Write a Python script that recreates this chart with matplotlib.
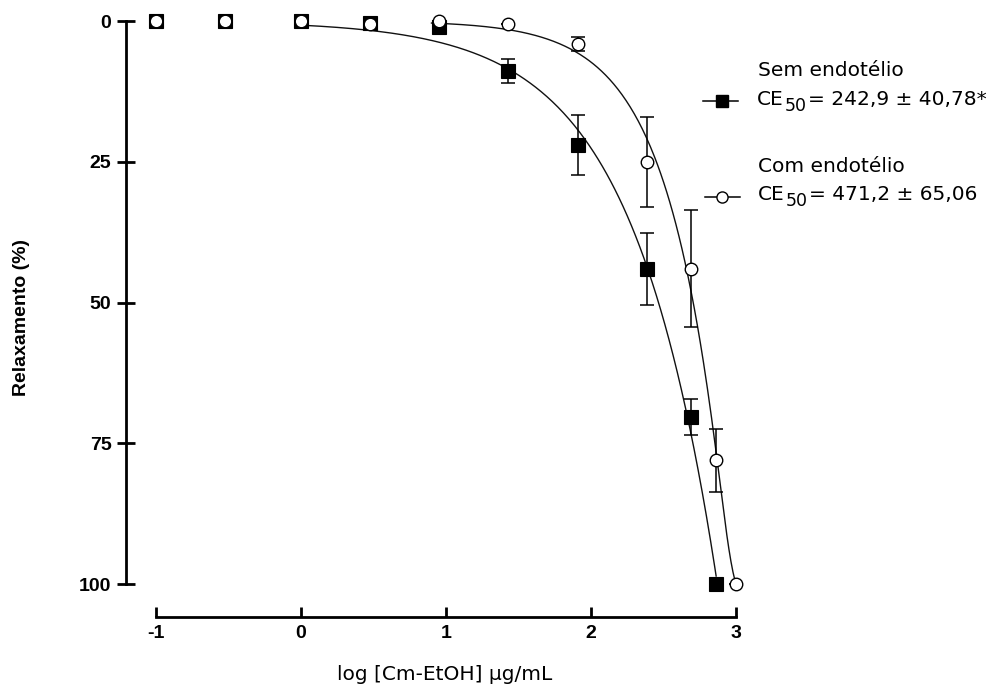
import numpy as np
import matplotlib
matplotlib.use("Agg")
import matplotlib.pyplot as plt
from matplotlib.lines import Line2D

# ---------------- data ----------------
log_conc = [-1.0, -0.523, 0.0, 0.477, 0.954, 1.431, 1.908, 2.386, 2.687, 2.863]
sem_mean = [0.0, 0.0, 0.0, 0.3, 1.1, 8.9, 22.0, 44.0, 70.3, 100.0]
sem_err = [0.0, 0.0, 0.0, 0.0, 0.0, 2.2, 5.3, 6.4, 3.2, 0.0]

log_conc_com = [-1.0, -0.523, 0.0, 0.477, 0.954, 1.431, 1.908, 2.386, 2.687, 2.863, 3.0]
com_mean = [0.0, 0.0, 0.0, 0.5, 0.0, 0.5, 4.1, 25.0, 44.0, 78.0, 100.0]
com_err = [0.0, 0.0, 0.0, 0.0, 0.0, 0.0, 1.2, 8.0, 10.4, 5.6, 0.0]

x_ticks = [-1, 0, 1, 2, 3]
y_ticks = [0, 25, 50, 75, 100]

sem_title = "Sem endotélio"
com_title = "Com endotélio"
ce_prefix = "CE"
ce_sub = "50"
sem_ce = "= 242,9 ± 40,78*"
com_ce = "= 471,2 ± 65,06"
x_label = "log [Cm-EtOH] µg/mL"
y_label = "Relaxamento (%)"


# ---------------- curve fit (asymmetric logistic, bottom = 0) ----------------
def model(p, x):
    T, c, h, s = p
    with np.errstate(over="ignore"):
        return T * (1.0 + 10.0 ** (h * (c - x))) ** (-s)


def nelder_mead(f, x0, step, iters=10000):
    n = len(x0)
    pts = [np.array(x0, float)]
    for i in range(n):
        v = np.array(x0, float)
        v[i] += step[i]
        pts.append(v)
    vals = [f(p) for p in pts]
    for _ in range(iters):
        order = np.argsort(vals)
        pts = [pts[i] for i in order]
        vals = [vals[i] for i in order]
        cen = np.mean(pts[:-1], axis=0)
        xr = cen + (cen - pts[-1])
        fr = f(xr)
        if fr < vals[0]:
            xe = cen + 2 * (cen - pts[-1])
            fe = f(xe)
            if fe < fr:
                pts[-1], vals[-1] = xe, fe
            else:
                pts[-1], vals[-1] = xr, fr
        elif fr < vals[-2]:
            pts[-1], vals[-1] = xr, fr
        else:
            xc = cen + 0.5 * (pts[-1] - cen)
            fc = f(xc)
            if fc < vals[-1]:
                pts[-1], vals[-1] = xc, fc
            else:
                for i in range(1, n + 1):
                    pts[i] = pts[0] + 0.5 * (pts[i] - pts[0])
                    vals[i] = f(pts[i])
    i = int(np.argmin(vals))
    return pts[i], vals[i]


def fit(xs, ys, starts):
    xs = np.asarray(xs)
    ys = np.asarray(ys)
    lo = np.array([95.0, 1.0, 0.3, 0.05])
    hi = np.array([2000.0, 6.0, 12.0, 5.0])

    def loss(p):
        pen = 1e4 * np.sum(np.clip(lo - p, 0, None) ** 2 + np.clip(p - hi, 0, None) ** 2)
        r = model(np.clip(p, lo, hi), xs) - ys
        return np.sum(r ** 2) + pen

    best, best_v = None, np.inf
    for p0 in starts:
        p, v = nelder_mead(loss, p0, [10.0, 0.15, 0.5, 0.05])
        p, v = nelder_mead(loss, p, [5.0, 0.05, 0.2, 0.02], iters=4000)
        if v < best_v:
            best, best_v = p, v
    return np.clip(best, lo, hi)


starts = [[110.0, 2.75, 4.0, 0.2], [110.0, 2.85, 4.0, 0.4],
          [150.0, 2.9, 3.0, 0.3], [300.0, 3.2, 2.0, 0.5],
          [120.0, 2.95, 5.0, 0.25]]
p_sem = fit(log_conc, sem_mean, starts)
p_com = fit(log_conc_com, com_mean, starts)

# ---------------- figure ----------------
W, H = 1005, 686
fig = plt.figure(figsize=(W / 100, H / 100), dpi=100)
ax = fig.add_axes([126 / W, 1 - 600 / H, (745 - 126) / W, (600 - 10) / H])

line_kw = dict(color="#111111", lw=1.0, zorder=2)
xs_sem = np.linspace(0.0, log_conc[-1], 300)
xs_com = np.linspace(0.9, log_conc_com[-1], 300)
ax.plot(xs_sem, model(p_sem, xs_sem), **line_kw)
ax.plot(xs_com, model(p_com, xs_com), **line_kw)

eb_kw = dict(fmt="none", ecolor="black", elinewidth=1.1, capsize=4.7,
             capthick=1.1, zorder=3, clip_on=False)
ax.errorbar(log_conc, sem_mean, yerr=sem_err, **eb_kw)
ax.errorbar(log_conc_com, com_mean, yerr=com_err, **eb_kw)

ax.plot(log_conc, sem_mean, ls="none", marker="s", ms=9.8, mfc="black",
        mec="black", mew=0.8, zorder=4, clip_on=False)
ax.plot(log_conc_com, com_mean, ls="none", marker="o", ms=9.0, mfc="white",
        mec="black", mew=1.0, zorder=5, clip_on=False)

ax.set_xlim(-1 - 30 / 145, 3 + 9 / 145)
ax.set_ylim((600 - 21) / 5.63, (10 - 21) / 5.63)

for s in ["top", "right"]:
    ax.spines[s].set_visible(False)
ax.spines["left"].set_bounds(0, 100)
ax.spines["bottom"].set_bounds(-1, 3)
ax.spines["bottom"].set_position(("outward", 12.2))
for s in ["left", "bottom"]:
    ax.spines[s].set_linewidth(2.0)

ax.set_xticks(x_ticks)
ax.set_yticks(y_ticks)
ax.set_xticklabels([str(v) for v in x_ticks])
ax.set_yticklabels([str(v) for v in y_ticks])
ax.tick_params(axis="y", direction="inout", length=13, width=2.0, pad=4)
ax.tick_params(axis="x", direction="in", length=7, width=2.0, pad=6)
for lab in ax.get_xticklabels() + ax.get_yticklabels():
    lab.set_fontfamily("Liberation Sans")
    lab.set_fontweight("bold")
    lab.set_fontsize(14)

fig.text(21 / W, 1 - 318 / H, y_label, rotation=90, ha="center", va="center",
         fontfamily="Liberation Sans", fontweight="bold", fontsize=14)
fig.text(445 / W, 1 - 680 / H, x_label, ha="center", va="baseline",
         fontfamily="DejaVu Sans", fontsize=14.5)

# ---------------- legend (manual) ----------------
renderer = fig.canvas.get_renderer()
leg_font = dict(fontfamily="DejaVu Sans", va="baseline", ha="left")


def ce_line(x_px, base_px, rest):
    t1 = fig.text(x_px / W, 1 - base_px / H, ce_prefix, fontsize=14.5, **leg_font)
    x1 = t1.get_window_extent(renderer).x1
    t2 = fig.text((x1 + 1) / W, 1 - (base_px + 6) / H, ce_sub, fontsize=12.5,
                  **leg_font)
    x2 = t2.get_window_extent(renderer).x1
    fig.text((x2 + 1) / W, 1 - base_px / H, rest, fontsize=14.5, **leg_font)


fig.text(758 / W, 1 - 76 / H, sem_title, fontsize=14.5, **leg_font)
ce_line(757, 105, sem_ce)
fig.text(758 / W, 1 - 172 / H, com_title, fontsize=14.5, **leg_font)
ce_line(758, 200, com_ce)

fig.add_artist(Line2D([703 / W, 738 / W], [1 - 101 / H, 1 - 101 / H],
                      transform=fig.transFigure, color="black", lw=1.1))
fig.add_artist(Line2D([722 / W], [1 - 101 / H], transform=fig.transFigure,
                      marker="s", ms=8, mfc="black", mec="black", ls="none"))
fig.add_artist(Line2D([705 / W, 740 / W], [1 - 197 / H, 1 - 197 / H],
                      transform=fig.transFigure, color="black", lw=1.1))
fig.add_artist(Line2D([722 / W], [1 - 197 / H], transform=fig.transFigure,
                      marker="o", ms=8, mfc="white", mec="black", mew=1.0,
                      ls="none"))

fig.savefig("out.png", dpi=100)
